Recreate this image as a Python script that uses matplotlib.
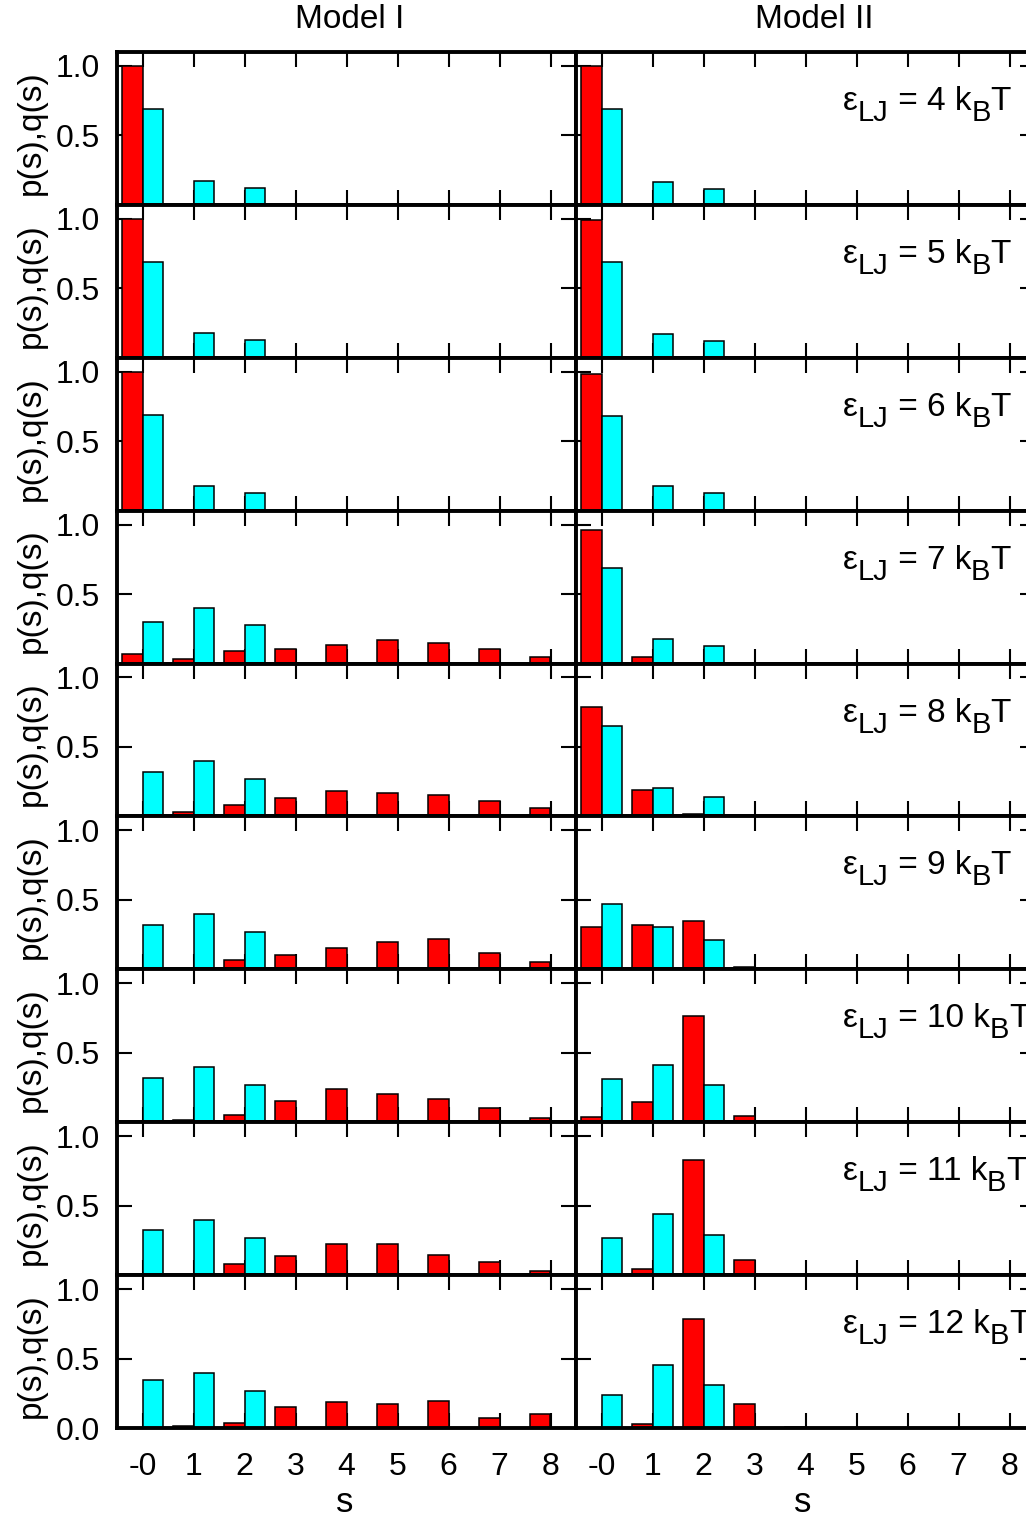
import matplotlib
matplotlib.use('Agg')
import matplotlib.pyplot as plt
import numpy as np

plt.rcParams['font.family'] = ['Liberation Sans', 'DejaVu Sans']

# ---------------- data ----------------
eps_values = [4, 5, 6, 7, 8, 9, 10, 11, 12]
s_values = [0, 1, 2, 3, 4, 5, 6, 7, 8]
s_ticklabels = ['-0', '1', '2', '3', '4', '5', '6', '7', '8']
model_titles = ['Model I', 'Model II']

# Model I : p(s) (red)
p_model1 = [
    [1.00, 0, 0, 0, 0, 0, 0, 0, 0],
    [0.995, 0, 0, 0, 0, 0, 0, 0, 0],
    [0.995, 0, 0, 0, 0, 0, 0, 0, 0],
    [0.07, 0.03, 0.093, 0.107, 0.134, 0.168, 0.149, 0.102, 0.05],
    [0, 0.03, 0.085, 0.135, 0.18, 0.17, 0.157, 0.11, 0.06],
    [0, 0, 0.07, 0.10, 0.155, 0.20, 0.22, 0.115, 0.055],
    [0, 0.015, 0.05, 0.155, 0.237, 0.205, 0.164, 0.10, 0.03],
    [0, 0, 0.082, 0.14, 0.227, 0.227, 0.143, 0.094, 0.03],
    [0, 0.015, 0.035, 0.152, 0.184, 0.176, 0.193, 0.075, 0.104],
]
# Model I : q(s) (cyan)
q_model1 = [
    [0.69, 0.17, 0.12, 0, 0, 0, 0, 0, 0],
    [0.69, 0.175, 0.13, 0, 0, 0, 0, 0, 0],
    [0.685, 0.178, 0.13, 0, 0, 0, 0, 0, 0],
    [0.30, 0.40, 0.28, 0, 0, 0, 0, 0, 0],
    [0.32, 0.40, 0.27, 0, 0, 0, 0, 0, 0],
    [0.32, 0.40, 0.27, 0, 0, 0, 0, 0, 0],
    [0.32, 0.40, 0.267, 0, 0, 0, 0, 0, 0],
    [0.324, 0.40, 0.27, 0, 0, 0, 0, 0, 0],
    [0.343, 0.394, 0.266, 0, 0, 0, 0, 0, 0],
]
# Model II : p(s) (red)
p_model2 = [
    [1.00, 0, 0, 0, 0, 0, 0, 0, 0],
    [0.99, 0, 0, 0, 0, 0, 0, 0, 0],
    [0.98, 0.005, 0, 0, 0, 0, 0, 0, 0],
    [0.958, 0.047, 0, 0, 0, 0, 0, 0, 0],
    [0.79, 0.188, 0.015, 0, 0, 0, 0, 0, 0],
    [0.302, 0.319, 0.347, 0.015, 0, 0, 0, 0, 0],
    [0.037, 0.145, 0.765, 0.047, 0, 0, 0, 0, 0],
    [0, 0.043, 0.829, 0.111, 0, 0, 0, 0, 0],
    [0, 0.031, 0.783, 0.174, 0.008, 0, 0, 0, 0],
]
# Model II : q(s) (cyan)
q_model2 = [
    [0.69, 0.168, 0.116, 0, 0, 0, 0, 0, 0],
    [0.686, 0.17, 0.118, 0, 0, 0, 0, 0, 0],
    [0.68, 0.175, 0.127, 0, 0, 0, 0, 0, 0],
    [0.684, 0.174, 0.127, 0, 0, 0, 0, 0, 0],
    [0.652, 0.203, 0.142, 0, 0, 0, 0, 0, 0],
    [0.471, 0.305, 0.213, 0, 0, 0, 0, 0, 0],
    [0.313, 0.41, 0.265, 0, 0, 0, 0, 0, 0],
    [0.268, 0.442, 0.287, 0, 0, 0, 0, 0, 0],
    [0.239, 0.452, 0.309, 0, 0, 0, 0, 0, 0],
]

# ---------------- layout ----------------
W, H = 1026, 1517
fig = plt.figure(figsize=(W / 100, H / 100), dpi=100)
fig.patch.set_facecolor('white')


def fx(px):
    return px / W


def fy(py):
    return 1 - py / H


AX_TOP, AX_BOT = 52, 1428
NROW = len(eps_values)
ph = (AX_BOT - AX_TOP) / NROW
col_left = [117, 576]
col_w = 459
RED = '#ff0000'
CYAN = '#00ffff'
FS_TICK = 23

renderer = fig.canvas.get_renderer()


def text_width(s, fs):
    t = fig.text(0, 0, s, fontsize=fs)
    w = t.get_window_extent(renderer).width
    t.remove()
    return w


def eps_label(x_px, base_py, e):
    fs, fss, drop = 24, 21, 11
    pieces = [('\u03b5', 0, fs), ('LJ', drop, fss), (' = %d k' % e, 0, fs),
              ('B', drop, fss), ('T', 0, fs)]
    x = x_px
    for s, d, f in pieces:
        fig.text(fx(x), fy(base_py + d), s, fontsize=f, ha='left', va='baseline')
        x += text_width(s, f)


data = [(p_model1, q_model1), (p_model2, q_model2)]
s_arr = np.array(s_values, dtype=float)

for r in range(NROW):
    top = AX_TOP + r * ph
    for c in range(2):
        ax = fig.add_axes([fx(col_left[c]), fy(top + ph), col_w / W, ph / H])
        p = np.array(data[c][0][r])
        q = np.array(data[c][1][r])
        mp = p > 0
        mq = q > 0
        ax.bar(s_arr[mp] - 0.2, p[mp], width=0.4, color=RED, edgecolor='black',
               linewidth=1.1)
        ax.bar(s_arr[mq] + 0.2, q[mq], width=0.4, color=CYAN, edgecolor='black',
               linewidth=1.1)
        ax.set_xlim(-0.5, 8.5)
        ax.set_ylim(0, 1.1)
        ax.set_axisbelow(True)
        for sp in ax.spines.values():
            sp.set_linewidth(2.8)
        ax.set_xticks(s_values)
        ax.set_yticks([0, 0.5, 1.0])
        ax.tick_params(axis='both', direction='in', length=11, width=1.5,
                       top=True, right=True, labelsize=FS_TICK)
        ax.tick_params(axis='x', pad=17)
        ax.tick_params(axis='y', pad=12)
        if r == NROW - 1:
            ax.set_xticklabels(s_ticklabels)
        else:
            ax.set_xticklabels([])
        if c == 0:
            if r == NROW - 1:
                ax.set_yticklabels(['0.0', '0.5', '1.0'])
            else:
                ax.set_yticklabels(['', '0.5', '1.0'])
        else:
            ax.set_yticklabels([])
        if c == 1:
            eps_label(843, top + 58, eps_values[r])
    fig.text(fx(31), fy(top + ph / 2 + 4), 'p(s),q(s)', rotation=90,
             ha='center', va='center', fontsize=24)

fig.text(fx(350), fy(19), model_titles[0], ha='center', va='center', fontsize=24)
fig.text(fx(814), fy(19), model_titles[1], ha='center', va='center', fontsize=24)
fig.text(fx(345), fy(1502), 's', ha='center', va='center', fontsize=25)
fig.text(fx(803), fy(1502), 's', ha='center', va='center', fontsize=25)

fig.savefig('out.png', dpi=100)
